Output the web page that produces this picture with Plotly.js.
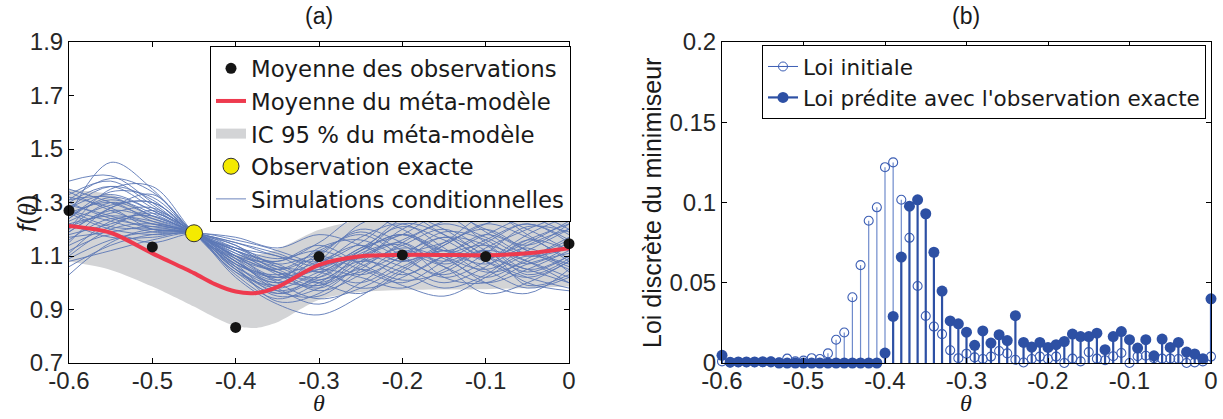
<!DOCTYPE html>
<html>
<head>
<meta charset="utf-8">
<script src="https://cdn.plot.ly/plotly-3.0.1.min.js"></script>
<style>
html,body{margin:0;padding:0;background:#fff;}
#chart{width:1223px;height:419px;}
</style>
</head>
<body>
<div id="chart"></div>
<script>
// ---------- Panel (a) data ----------
const OBS_X = [-0.6, -0.5, -0.4, -0.3, -0.2, -0.1, 0];
const OBS_Y = [1.27, 1.134, 0.833, 1.098, 1.104, 1.098, 1.146];
const EXACT_X = [-0.45];
const EXACT_Y = [1.185];

const MEAN_X = [-0.6, -0.55, -0.5, -0.45, -0.425, -0.4, -0.375, -0.35, -0.3, -0.25, -0.2, -0.15, -0.1, -0.05, 0];
const MEAN_Y = [1.212, 1.187, 1.11, 1.036, 0.995, 0.967, 0.962, 0.984, 1.067, 1.099, 1.104, 1.104, 1.103, 1.11, 1.129];
const CI_LOW = [1.079, 1.048, 0.986, 0.911, 0.87, 0.838, 0.831, 0.852, 0.936, 0.965, 0.973, 0.975, 0.976, 0.98, 0.986];
const CI_HIGH = [1.347, 1.33, 1.25, 1.17, 1.13, 1.105, 1.105, 1.125, 1.198, 1.235, 1.247, 1.255, 1.26, 1.265, 1.268];

const SIM_X = [-0.6, -0.55, -0.5, -0.45, -0.4, -0.35, -0.3, -0.25, -0.2, -0.15, -0.1, -0.05, 0];
const SIMS = [
  [1.38,1.40,1.30,1.185,1.10,1.02,1.05,1.12,1.18,1.10,1.05,1.12,1.20],
  [1.25,1.45,1.35,1.185,1.08,1.00,1.10,1.20,1.15,1.08,1.15,1.22,1.15],
  [1.30,1.36,1.28,1.185,1.12,1.05,1.00,1.08,1.20,1.25,1.15,1.05,1.10],
  [1.20,1.30,1.25,1.185,1.05,0.95,0.98,1.10,1.22,1.18,1.08,1.02,1.08],
  [1.03,1.15,1.20,1.185,1.15,1.10,1.08,1.15,1.25,1.20,1.10,1.05,1.00],
  [1.10,1.20,1.22,1.185,1.08,0.98,0.92,1.00,1.10,1.15,1.20,1.12,1.05],
  [1.28,1.33,1.27,1.185,1.02,0.92,0.88,0.95,1.05,1.12,1.05,0.98,1.02],
  [1.35,1.30,1.24,1.185,1.10,1.05,1.12,1.18,1.10,1.02,1.08,1.18,1.25],
  [1.22,1.25,1.23,1.185,1.12,1.08,1.15,1.25,1.20,1.12,1.18,1.24,1.18],
  [1.15,1.28,1.30,1.185,1.06,1.00,1.05,1.02,0.98,1.05,1.12,1.08,1.02],
  [1.26,1.20,1.18,1.185,1.14,1.06,1.02,1.12,1.18,1.10,1.00,0.96,1.05],
  [1.32,1.28,1.20,1.185,1.09,0.97,0.95,1.05,1.15,1.22,1.17,1.10,1.13],
  [1.18,1.22,1.26,1.185,1.03,0.94,1.00,1.08,1.04,0.98,1.03,1.14,1.20],
  [1.24,1.34,1.32,1.185,1.07,1.03,1.08,1.14,1.08,1.15,1.25,1.20,1.12],
  [1.12,1.18,1.15,1.185,1.16,1.12,1.06,0.98,1.02,1.10,1.14,1.08,1.00],
  [1.29,1.25,1.20,1.185,1.11,1.04,0.97,1.03,1.12,1.06,0.96,1.00,1.08],
  [1.20,1.35,1.36,1.185,1.04,0.96,1.03,1.13,1.18,1.26,1.20,1.14,1.22],
  [1.08,1.12,1.16,1.185,1.13,1.07,1.10,1.05,1.00,1.08,1.16,1.22,1.16],
  [1.33,1.38,1.29,1.185,1.06,0.99,1.08,1.22,1.26,1.18,1.10,1.15,1.23],
  [1.27,1.23,1.19,1.185,1.10,1.00,0.94,0.98,1.06,1.12,1.08,1.02,0.98],
  [1.21,1.26,1.28,1.185,1.09,1.04,1.00,0.96,1.04,1.14,1.22,1.26,1.20],
  [1.16,1.24,1.22,1.185,1.13,1.09,1.12,1.08,1.14,1.20,1.12,1.04,1.10],
  [1.31,1.32,1.25,1.185,1.05,0.97,1.02,1.10,1.06,1.00,1.06,1.16,1.12],
  [1.23,1.29,1.30,1.185,1.08,1.01,0.99,1.06,1.13,1.09,1.02,1.09,1.17],
  [1.06,1.14,1.18,1.185,1.17,1.13,1.18,1.14,1.08,1.14,1.22,1.17,1.09],
  [1.25,1.31,1.26,1.185,1.11,1.06,1.04,1.00,1.08,1.17,1.10,1.00,0.97],
  [1.19,1.27,1.24,1.185,1.07,1.02,1.07,1.17,1.22,1.13,1.04,1.08,1.15],
  [1.30,1.24,1.21,1.185,1.12,1.03,0.98,1.05,0.99,0.95,1.02,1.10,1.06],
  [1.14,1.21,1.27,1.185,1.04,0.99,1.06,1.10,1.16,1.23,1.27,1.18,1.08],
  [1.26,1.30,1.23,1.185,1.10,1.08,1.14,1.07,1.01,1.04,1.13,1.20,1.26],
  [1.17,1.19,1.21,1.185,1.09,1.02,1.11,1.19,1.12,1.06,1.00,1.05,1.12],
  [1.28,1.36,1.31,1.185,1.13,1.10,1.04,1.12,1.24,1.28,1.19,1.11,1.16],
  [1.22,1.17,1.17,1.185,1.06,0.93,0.96,1.07,1.18,1.12,1.07,1.13,1.04],
  [1.11,1.23,1.25,1.185,1.14,1.05,1.09,1.03,1.10,1.19,1.16,1.07,1.14],
  [1.34,1.27,1.22,1.185,1.08,1.01,1.13,1.16,1.09,1.03,1.11,1.21,1.19],
  [1.24,1.32,1.27,1.185,1.12,1.07,1.01,1.10,1.15,1.07,1.12,0.99,1.03],
  [1.19,1.28,1.33,1.185,1.05,0.98,1.04,1.09,1.03,1.10,1.18,1.12,1.07],
  [1.27,1.21,1.20,1.185,1.15,1.11,1.06,1.13,1.21,1.16,1.09,1.16,1.22],
  [1.09,1.16,1.19,1.185,1.10,1.04,0.99,1.11,1.14,1.02,1.00,1.07,1.11],
  [1.31,1.39,1.34,1.185,1.07,0.96,1.01,1.04,1.11,1.17,1.14,1.03,1.09]
];

// ---------- Panel (b) data ----------
const THETA = [-0.60,-0.59,-0.58,-0.57,-0.56,-0.55,-0.54,-0.53,-0.52,-0.51,
  -0.50,-0.49,-0.48,-0.47,-0.46,-0.45,-0.44,-0.43,-0.42,-0.41,
  -0.40,-0.39,-0.38,-0.37,-0.36,-0.35,-0.34,-0.33,-0.32,-0.31,
  -0.30,-0.29,-0.28,-0.27,-0.26,-0.25,-0.24,-0.23,-0.22,-0.21,
  -0.20,-0.19,-0.18,-0.17,-0.16,-0.15,-0.14,-0.13,-0.12,-0.11,
  -0.10,-0.09,-0.08,-0.07,-0.06,-0.05,-0.04,-0.03,-0.02,-0.01,0.00];
const LOI_INITIALE = [0.001,0.0003,0.0005,0.0005,0.0005,0.0005,0.001,0.0005,0.0027,0.001,
  0.0015,0.003,0.0025,0.006,0.0145,0.019,0.041,0.061,0.0886,0.097,
  0.122,0.125,0.1017,0.078,0.048,0.0293,0.0227,0.018,0.0079,0.003,
  0.0058,0.0035,0.0025,0.004,0.0075,0.006,0.002,0.0003,0.0025,0.004,
  0.0025,0.004,0,0.0027,0.001,0.0068,0.0027,0.0017,0.0042,0.0062,
  0,0.0042,0.0045,0.003,0.0027,0.0027,0.0025,0,0.0004,0.001,0.004];
const LOI_PREDITE = [0.0048,0.0005,0.0007,0.0007,0.0007,0.0008,0.0007,0,0,0,
  0,0,0,0,0,0,0,0,0,0,
  0.0062,0.029,0.066,0.0977,0.1017,0.093,0.069,0.0448,0.0262,0.0244,
  0.0192,0.011,0.020,0.0124,0.0176,0.014,0.0295,0.0128,0.0099,0.0128,
  0.0097,0.0114,0.0134,0.018,0.0165,0.0165,0.0186,0.0083,0.0165,0.0196,
  0.0145,0.0093,0.0145,0.0045,0.0149,0.0097,0.0128,0.0068,0.0056,0.0027,0.040];

const X_TICKS = [-0.6,-0.5,-0.4,-0.3,-0.2,-0.1,0];
const X_TICKTEXT = ['-0.6','-0.5','-0.4','-0.3','-0.2','-0.1','0'];
const YA_TICKS = [0.7,0.9,1.1,1.3,1.5,1.7,1.9];
const YA_TICKTEXT = ['0.7','0.9','1.1','1.3','1.5','1.7','1.9'];
const YB_TICKS = [0,0.05,0.1,0.15,0.2];
const YB_TICKTEXT = ['0','0.05','0.1','0.15','0.2'];

// ---------- styles ----------
const FONT = 'Liberation Sans, Arial, sans-serif';
const LEGFONT = 'DejaVu Sans, Verdana, sans-serif';
const SERIF = 'Liberation Serif, Times New Roman, serif';
const C_SIM = '#5b77b6';
const C_RED = '#ee3a4e';
const C_GRAY = '#d3d4d6';
const C_OPEN = '#3c5eb4';
const C_OPEN_STEM = '#6f8bcc';
const C_FILL = '#2d50a4';

function stems(xs, ys) {
  const sx = [], sy = [];
  xs.forEach((x, i) => { sx.push(x, x, null); sy.push(0, ys[i], null); });
  return {sx, sy};
}

const traces = [];
// CI band
traces.push({x: MEAN_X, y: CI_LOW, mode: 'lines', line: {width: 0, shape: 'spline', smoothing: 0.8},
  showlegend: false, hoverinfo: 'skip', xaxis: 'x', yaxis: 'y'});
traces.push({x: MEAN_X, y: CI_HIGH, mode: 'lines', fill: 'tonexty', fillcolor: C_GRAY,
  line: {width: 0, shape: 'spline', smoothing: 0.8}, showlegend: false, xaxis: 'x', yaxis: 'y'});
// legend swatch for band
traces.push({x: [null], y: [null], mode: 'lines', line: {color: C_GRAY, width: 25},
  name: 'IC 95 % du méta-modèle', legendrank: 3, xaxis: 'x', yaxis: 'y', legend: 'legend'});
// simulations
SIMS.forEach((s, i) => {
  traces.push({x: SIM_X, y: s, mode: 'lines', line: {color: C_SIM, width: 0.9, shape: 'spline', smoothing: 1},
    name: 'Simulations conditionnelles', legendgroup: 'sim', showlegend: i === 0, legendrank: 5,
    xaxis: 'x', yaxis: 'y', legend: 'legend'});
});
// mean
traces.push({x: MEAN_X, y: MEAN_Y, mode: 'lines', line: {color: C_RED, width: 4, shape: 'spline', smoothing: 0.8},
  name: 'Moyenne du méta-modèle', legendrank: 2, xaxis: 'x', yaxis: 'y', legend: 'legend'});
// observations
traces.push({x: OBS_X, y: OBS_Y, mode: 'markers', marker: {color: '#151515', size: 11},
  name: 'Moyenne des observations', legendrank: 1, cliponaxis: false, xaxis: 'x', yaxis: 'y', legend: 'legend'});
// exact
traces.push({x: EXACT_X, y: EXACT_Y, mode: 'markers',
  marker: {color: '#f4ea00', size: 17, line: {color: '#333', width: 1}},
  name: 'Observation exacte', legendrank: 4, cliponaxis: false, xaxis: 'x', yaxis: 'y', legend: 'legend'});

// panel b
const st1 = stems(THETA, LOI_INITIALE);
const st2 = stems(THETA, LOI_PREDITE);
traces.push({x: st1.sx, y: st1.sy, mode: 'lines', line: {color: C_OPEN_STEM, width: 1.2},
  showlegend: false, hoverinfo: 'skip', cliponaxis: false, xaxis: 'x2', yaxis: 'y2'});
traces.push({x: THETA, y: LOI_INITIALE, mode: 'markers',
  marker: {symbol: 'circle-open', size: 9, color: C_OPEN, line: {width: 1.1}},
  showlegend: false, cliponaxis: false, xaxis: 'x2', yaxis: 'y2'});
traces.push({x: st2.sx, y: st2.sy, mode: 'lines', line: {color: C_FILL, width: 2.2},
  showlegend: false, hoverinfo: 'skip', cliponaxis: false, xaxis: 'x2', yaxis: 'y2'});
traces.push({x: THETA, y: LOI_PREDITE, mode: 'markers',
  marker: {symbol: 'circle', size: 11, color: C_FILL},
  showlegend: false, cliponaxis: false, xaxis: 'x2', yaxis: 'y2'});
// legend entries for panel b
traces.push({x: [null], y: [null], mode: 'lines+markers', line: {color: C_OPEN, width: 1},
  marker: {symbol: 'circle-open-dot', size: 9, color: C_OPEN}, name: 'Loi initiale',
  legendrank: 1, xaxis: 'x2', yaxis: 'y2', legend: 'legend2'});
traces.push({x: [null], y: [null], mode: 'lines+markers', line: {color: C_FILL, width: 2.2},
  marker: {symbol: 'circle', size: 11, color: C_FILL}, name: "Loi prédite avec l'observation exacte",
  legendrank: 2, xaxis: 'x2', yaxis: 'y2', legend: 'legend2'});

const W = 1223, H = 419;
const axBase = {
  showline: true, linecolor: '#000', linewidth: 1, mirror: 'allticks',
  ticks: 'inside', ticklen: 5, tickcolor: '#000', showgrid: false, zeroline: false,
  tickfont: {family: FONT, size: 24, color: '#262626'}, fixedrange: true
};
const yDom = [1 - 363 / H, 1 - 42 / H];
const legBase = {
  bgcolor: '#fff', bordercolor: '#000', borderwidth: 1,
  xanchor: 'left', yanchor: 'top',
  itemwidth: 30, tracegroupgap: 0, itemclick: false, itemdoubleclick: false
};
function ann(text, px, py, size, family, angle) {
  return {text: text, x: px / W, y: 1 - py / H, xref: 'paper', yref: 'paper', showarrow: false,
    xanchor: 'center', yanchor: 'middle', textangle: angle || 0,
    font: {family: family, size: size, color: '#1a1a1a'}};
}

const layout = {
  width: W, height: H, margin: {l: 0, r: 0, t: 0, b: 0},
  paper_bgcolor: '#fff', plot_bgcolor: '#fff',
  font: {family: FONT, color: '#1a1a1a'},
  xaxis: Object.assign({}, axBase, {domain: [69 / W, 569 / W], range: [-0.6, 0],
    tickvals: X_TICKS, ticktext: X_TICKTEXT, anchor: 'y', ticklabelstandoff: -4}),
  yaxis: Object.assign({}, axBase, {domain: yDom, range: [0.7, 1.9],
    tickvals: YA_TICKS, ticktext: YA_TICKTEXT, anchor: 'x'}),
  xaxis2: Object.assign({}, axBase, {domain: [722 / W, 1211 / W], range: [-0.6, 0],
    tickvals: X_TICKS, ticktext: X_TICKTEXT, anchor: 'y2', ticklabelstandoff: -4}),
  yaxis2: Object.assign({}, axBase, {domain: yDom, range: [0, 0.2],
    tickvals: YB_TICKS, ticktext: YB_TICKTEXT, anchor: 'x2'}),
  legend: Object.assign({}, legBase, {x: 210 / W, y: 1 - 46 / H,
    font: {family: LEGFONT, size: 22.8, color: '#1a1a1a'}}),
  legend2: Object.assign({}, legBase, {x: 762 / W, y: 1 - 45 / H,
    font: {family: LEGFONT, size: 21.5, color: '#1a1a1a'}}),
  annotations: [
    ann('(a)', 319, 16, 23, FONT),
    ann('(b)', 966, 16, 23, FONT),
    ann('<i>θ</i>', 319, 403, 24, SERIF),
    ann('<i>θ</i>', 966, 403, 24, SERIF),
    ann("<i>f</i>(<span style='font-family:Liberation Serif'><i>θ</i></span>)", 27, 214, 26, FONT, -90),
    ann('Loi discrète du minimiseur', 652, 203, 25, FONT, -90)
  ]
};

Plotly.newPlot('chart', traces, layout, {displayModeBar: false, staticPlot: true});
</script>
</body>
</html>
